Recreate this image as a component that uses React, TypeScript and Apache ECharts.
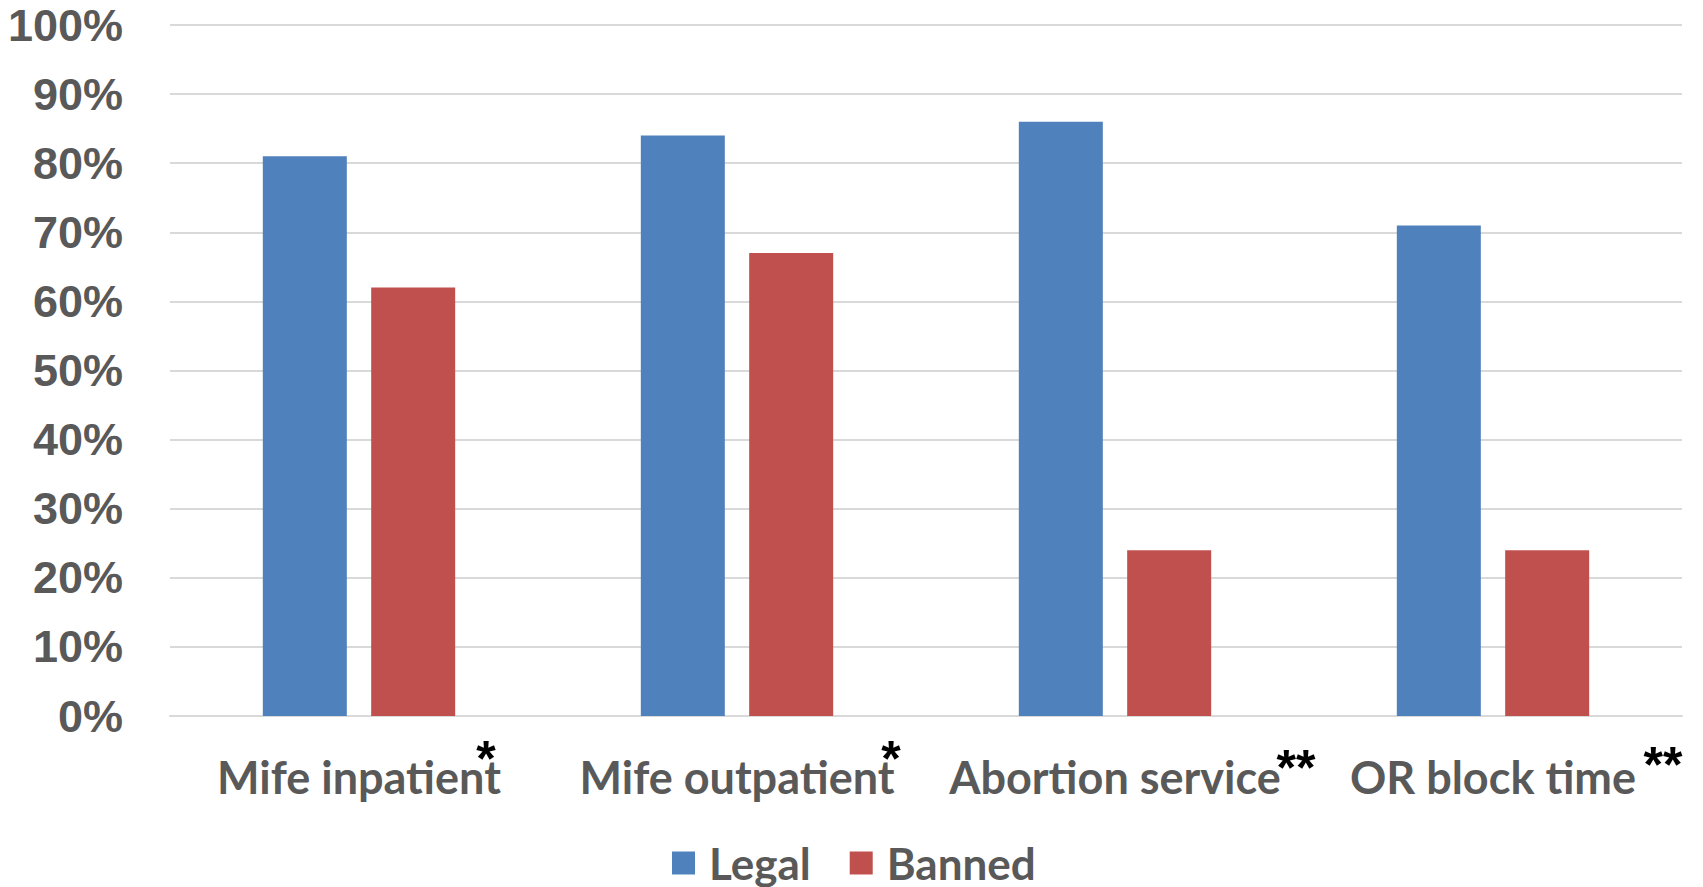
import React, { useEffect, useRef } from "react";
import * as echarts from "echarts";

const categories = ["Mife inpatient", "Mife outpatient", "Abortion service", "OR block time"];
const legalValues = [81, 84, 86, 71];
const bannedValues = [62, 67, 24, 24];
const footnoteMarks = ["*", "*", "**", "**"];
const yMin = 0;
const yMax = 100;
const yInterval = 10;

// placement of the footnote marks relative to each category centre (style, not data)
const markPlacement = [
  { dx: 127, y: 759 },
  { dx: 154, y: 759 },
  { dx: 181, y: 768 },
  { dx: 170, y: 765 },
];

const LABEL_FONT = "Lato";
const GRAY = "#595959";

export default function App() {
  const ref = useRef<HTMLDivElement>(null);
  useEffect(() => {
    if (!ref.current) return;
    const chart = echarts.init(ref.current, undefined, { renderer: "svg" });
    chart.setOption({
      animation: false,
      backgroundColor: "#ffffff",
      grid: { left: 170, right: 21, top: 25, bottom: 171, containLabel: false },
      legend: {
        data: ["Legal", "Banned"],
        top: 841,
        left: 672,
        padding: 0,
        icon: "rect",
        itemWidth: 23,
        itemHeight: 23,
        itemGap: 39,
        textStyle: {
          fontFamily: LABEL_FONT,
          fontWeight: "bold",
          fontSize: 44,
          lineHeight: 40,
          color: GRAY,
          padding: [0, 0, 0, 9],
        },
      },
      xAxis: {
        type: "category",
        data: categories,
        axisTick: { show: false },
        axisLine: { lineStyle: { color: "#D9D9D9", width: 2 } },
        axisLabel: {
          interval: 0,
          margin: 38,
          fontFamily: LABEL_FONT,
          fontWeight: "bold",
          fontSize: 45,
          color: GRAY,
        },
      },
      yAxis: {
        type: "value",
        min: yMin,
        max: yMax,
        interval: yInterval,
        axisLine: { show: false },
        axisTick: { show: false },
        splitLine: { lineStyle: { color: "#D9D9D9", width: 2 } },
        axisLabel: {
          formatter: "{value}%",
          margin: 47,
          fontFamily: "Liberation Sans",
          fontWeight: "bold",
          fontSize: 45,
          color: GRAY,
        },
      },
      series: [
        {
          name: "Legal",
          type: "bar",
          data: legalValues,
          barWidth: 84,
          barGap: "29%",
          itemStyle: { color: "#4F81BD" },
        },
        {
          name: "Banned",
          type: "bar",
          data: bannedValues,
          barWidth: 84,
          barGap: "29%",
          itemStyle: { color: "#C0504D" },
        },
      ],
    });
    const graphics = categories.map((c, i) => {
      const x = chart.convertToPixel({ xAxisIndex: 0 }, c) as number;
      const p = markPlacement[i];
      return {
        type: "text",
        x: x + p.dx,
        y: p.y,
        style: {
          text: footnoteMarks[i],
          fontFamily: "Liberation Sans",
          fontWeight: "bold",
          fontSize: 50,
          fill: "#000000",
          align: "center",
          verticalAlign: "middle",
        },
      };
    });
    chart.setOption({ graphic: graphics });
    return () => chart.dispose();
  }, []);
  return (
    <div
      ref={ref}
      style={{ position: "fixed", left: 0, top: 0, width: 1703, height: 887 }}
    />
  );
}
